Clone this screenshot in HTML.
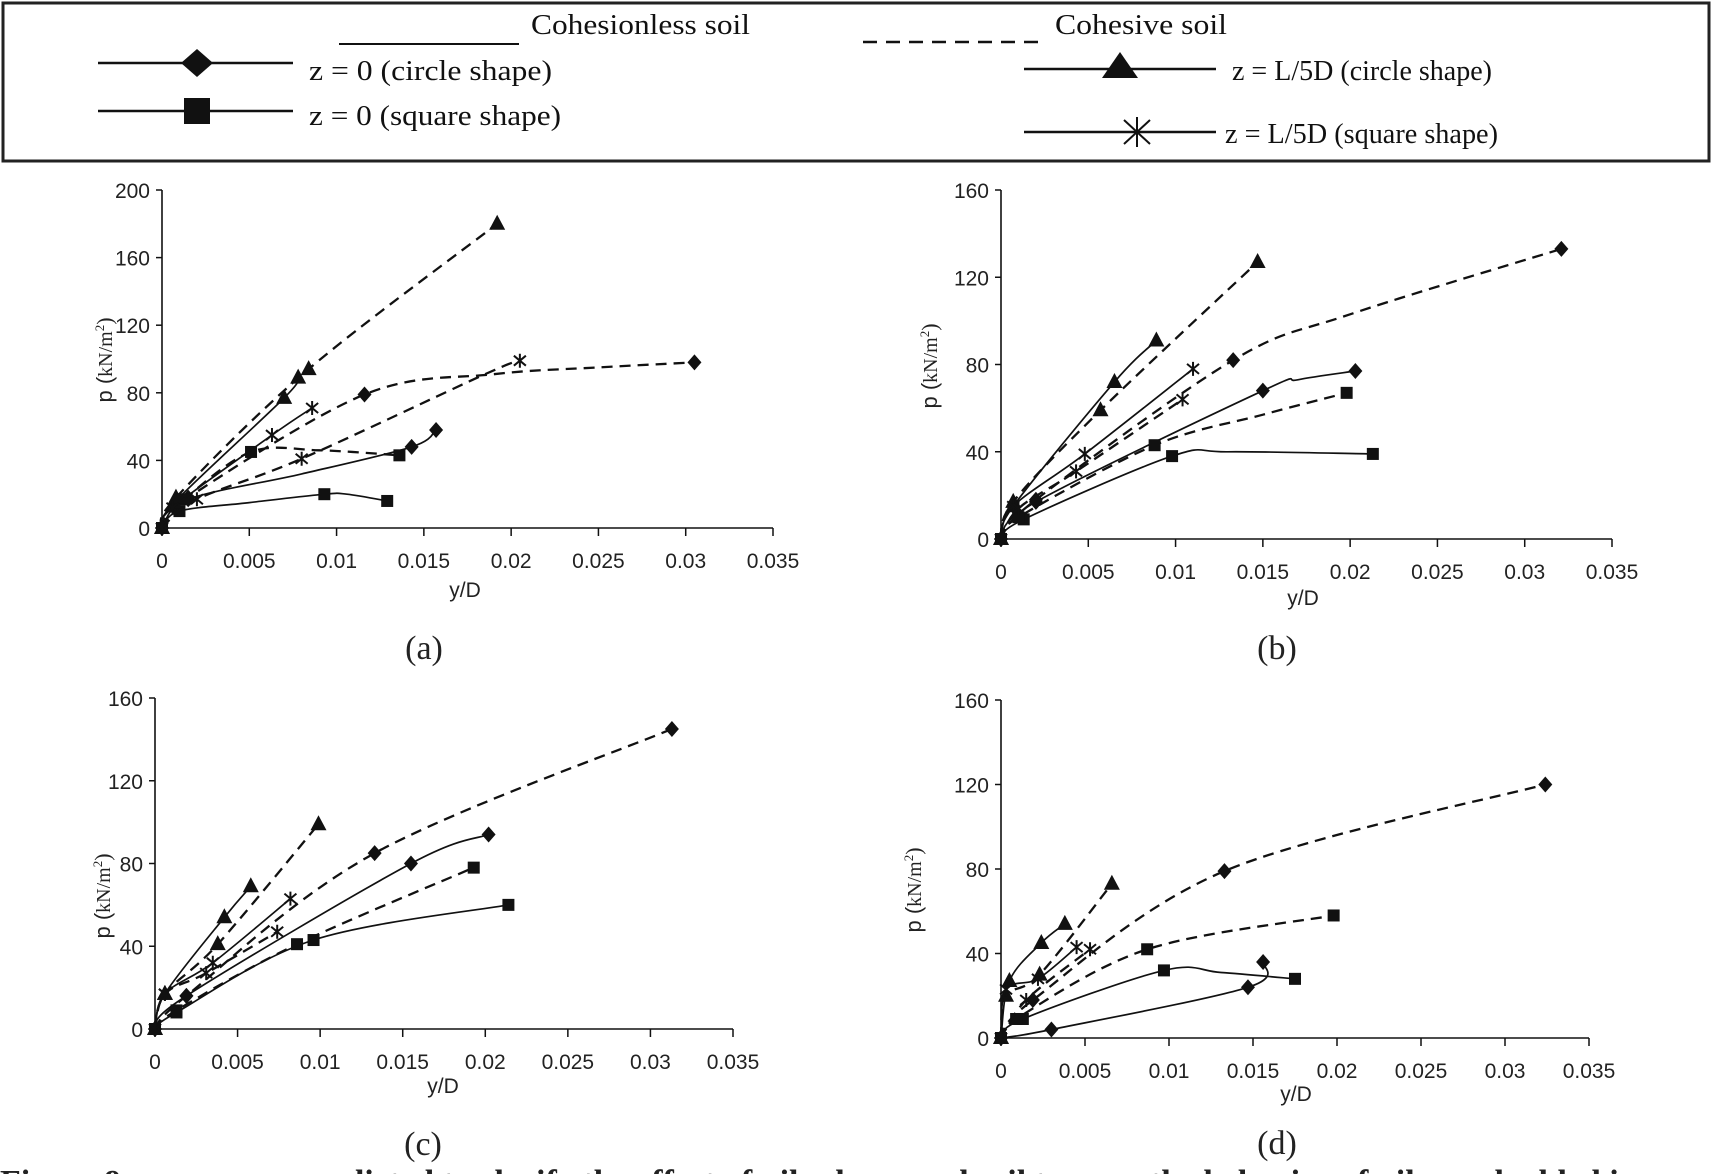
<!DOCTYPE html>
<html><head><meta charset="utf-8"><style>
html,body{margin:0;padding:0;background:#fff;}
svg{display:block;}
</style></head><body>
<svg id="fig" width="1714" height="1174" viewBox="0 0 1714 1174" xmlns="http://www.w3.org/2000/svg">
<rect x="0" y="0" width="1714" height="1174" fill="#fff"/>
<g font-family="'Liberation Serif', serif" font-size="28" fill="#111">
  <rect x="3" y="3" width="1706" height="158" fill="none" stroke="#222" stroke-width="3"/>
  <line x1="339" y1="44" x2="519" y2="44" stroke="#111" stroke-width="2"/>
  <text x="531" y="34" textLength="219" lengthAdjust="spacingAndGlyphs">Cohesionless soil</text>
  <line x1="863" y1="42" x2="1044" y2="42" stroke="#111" stroke-width="2.5" stroke-dasharray="14,9"/>
  <text x="1055" y="34" textLength="172" lengthAdjust="spacingAndGlyphs">Cohesive soil</text>
  <g>
    <line x1="98" y1="63" x2="293" y2="63" stroke="#111" stroke-width="2.5"/>
    <polygon points="197,49 213,63 197,77 181,63" fill="#111"/>
    <text x="309" y="80" textLength="243" lengthAdjust="spacingAndGlyphs">z = 0 (circle shape)</text>
  </g>
  <g>
    <line x1="98" y1="111" x2="293" y2="111" stroke="#111" stroke-width="2.5"/>
    <rect x="184" y="98" width="26" height="26" fill="#111"/>
    <text x="309" y="125" textLength="252" lengthAdjust="spacingAndGlyphs">z = 0 (square shape)</text>
  </g>
  <g>
    <line x1="1024" y1="69" x2="1216" y2="69" stroke="#111" stroke-width="2.5"/>
    <polygon points="1120,52 1138,78 1102,78" fill="#111"/>
    <text x="1232" y="80" textLength="260" lengthAdjust="spacingAndGlyphs">z = L/5D (circle shape)</text>
  </g>
  <g>
    <line x1="1024" y1="132" x2="1216" y2="132" stroke="#111" stroke-width="2.5"/>
    <path d="M1137,117 L1137,147 M1124,120 L1150,144 M1150,120 L1124,144" stroke="#111" stroke-width="2"/>
    <text x="1225" y="143" textLength="273" lengthAdjust="spacingAndGlyphs">z = L/5D (square shape)</text>
  </g>
</g>
<g id="plots"></g>
<text x="0" y="1193" font-family="'Liberation Serif', serif" font-size="34" font-weight="bold" fill="#222">Figure 9.  p-y curves predicted to clarify the effect of pile shape and soil type on the behavior of piles embedded in</text>
</svg>
<script>
// ---- Panel (a) data ----
const aTriSX=[0,0.0007,0.007,0.0078], aTriSY=[0,15,77,89];
const aTriDX=[0,0.0008,0.0084,0.0192], aTriDY=[0,18,94,180];
const aDiaDX=[0,0.0015,0.0116,0.019,0.025,0.0305], aDiaDY=[0,18,79,91,95,98];
const aDiaSX=[0,0.0015,0.008,0.0143,0.0157], aDiaSY=[0,17,32,48,58];
const aSqDX=[0,0.0013,0.0051,0.009,0.0136], aSqDY=[0,17,45,46,43];
const aSqSX=[0,0.001,0.005,0.0093,0.0106,0.0129], aSqSY=[0,10,15,20,20,16];
const aAstSX=[0,0.0006,0.0063,0.0086], aAstSY=[0,12,55,71];
const aAstDX=[0,0.002,0.008,0.0185,0.0205], aAstDY=[0,17,41,91,99];
// ---- Panel (b) data ----
const bTriSX=[0,0.0007,0.0065,0.0089], bTriSY=[0,15,72,91];
const bTriDX=[0,0.0007,0.0057,0.0147], bTriDY=[0,17,59,127];
const bAstSX=[0,0.0007,0.0048,0.011], bAstSY=[0,15,39,78];
const bAstDX=[0,0.001,0.0043,0.0104], bAstDY=[0,14,31,64];
const bDiaDX=[0,0.002,0.0133,0.02,0.0321], bDiaDY=[0,18,82,103,133];
const bDiaSX=[0,0.002,0.015,0.017,0.0203], bDiaSY=[0,17,68,73,77];
const bSqDX=[0,0.001,0.0088,0.015,0.0198], bSqDY=[0,10,43,57,67];
const bSqSX=[0,0.0013,0.0098,0.013,0.0213], bSqSY=[0,9,38,40,39];
// ---- Panel (c) data ----
const cTriSX=[0,0.0006,0.0042,0.0058], cTriSY=[0,17,54,69];
const cTriDX=[0,0.0006,0.0038,0.0099], cTriDY=[0,17,41,99];
const cAstSX=[0,0.0006,0.0035,0.0082], cAstSY=[0,17,32,63];
const cAstDX=[0,0.0006,0.0031,0.0074], cAstDY=[0,17,27,47];
const cDiaDX=[0,0.0019,0.0133,0.0313], cDiaDY=[0,16,85,145];
const cDiaSX=[0,0.0019,0.0155,0.0202], cDiaSY=[0,16,80,94];
const cSqDX=[0,0.0013,0.0086,0.0193], cSqDY=[0,9,41,78];
const cSqSX=[0,0.0013,0.0096,0.0214], cSqSY=[0,8,43,60];
// ---- Panel (d) data ----
const dTriSX=[0,0.0005,0.0024,0.0038], dTriSY=[0,27,45,54];
const dTriDX=[0,0.0003,0.0023,0.0066], dTriDY=[0,20,30,73];
const dAstSX=[0,0.0003,0.0022,0.0045], dAstSY=[0,23,28,43];
const dAstDX=[0,0.0015,0.0053], dAstDY=[0,18,42];
const dDiaDX=[0,0.0019,0.0133,0.0324], dDiaDY=[0,18,79,120];
const dSqDX=[0,0.0009,0.0087,0.0198], dSqDY=[0,9,42,58];
const dSqSX=[0,0.0013,0.0097,0.0131,0.0175], dSqSY=[0,9,32,31,28];
const dDiaSX=[0,0.003,0.0147,0.0156], dDiaSY=[0,4,24,36];
// ---- tick labels ----
const xTickLabels=["0","0.005","0.01","0.015","0.02","0.025","0.03","0.035"];
const yTicksA=[0,40,80,120,160,200];
const yTicks=[0,40,80,120,160];

const NS="http://www.w3.org/2000/svg";
const root=document.getElementById('plots');
function mk(tag,attrs,parent){const e=document.createElementNS(NS,tag);for(const k in attrs)e.setAttribute(k,attrs[k]);(parent||root).appendChild(e);return e;}

const panels=[
 {id:'a',x0:162,x1:773,y0:528,yt:190,ymax:200,ticks:yTicksA,title:[104,360],xl:[465,597],cap:[424,659],
  series:[[aDiaSX,aDiaSY,'dia',0,[2]],[aDiaDX,aDiaDY,'dia',1,[3,4]],[aSqSX,aSqSY,'sq',0,[2,4]],[aSqDX,aSqDY,'sq',1,[3]],
          [aTriSX,aTriSY,'tri',0,[]],[aTriDX,aTriDY,'tri',1,[]],[aAstSX,aAstSY,'ast',0,[]],[aAstDX,aAstDY,'ast',1,[3]]]},
 {id:'b',x0:1001,x1:1612,y0:539,yt:190,ymax:160,ticks:yTicks,title:[929,366],xl:[1303,605],cap:[1277,659],
  series:[[bDiaSX,bDiaSY,'dia',0,[3]],[bDiaDX,bDiaDY,'dia',1,[3]],[bSqSX,bSqSY,'sq',0,[3]],[bSqDX,bSqDY,'sq',1,[3]],
          [bTriSX,bTriSY,'tri',0,[]],[bTriDX,bTriDY,'tri',1,[]],[bAstSX,bAstSY,'ast',0,[]],[bAstDX,bAstDY,'ast',1,[]]]},
 {id:'c',x0:155,x1:733,y0:1029,yt:698,ymax:160,ticks:yTicks,title:[102,896],xl:[443,1093],cap:[423,1155],
  series:[[cDiaSX,cDiaSY,'dia',0,[]],[cDiaDX,cDiaDY,'dia',1,[]],[cSqSX,cSqSY,'sq',0,[]],[cSqDX,cSqDY,'sq',1,[]],
          [cTriSX,cTriSY,'tri',0,[]],[cTriDX,cTriDY,'tri',1,[]],[cAstSX,cAstSY,'ast',0,[]],[cAstDX,cAstDY,'ast',1,[]]]},
 {id:'d',x0:1001,x1:1589,y0:1038,yt:700,ymax:160,ticks:yTicks,title:[913,890],xl:[1296,1101],cap:[1277,1154],
  series:[[dDiaSX,dDiaSY,'dia',0,[]],[dDiaDX,dDiaDY,'dia',1,[]],[dSqSX,dSqSY,'sq',0,[3]],[dSqDX,dSqDY,'sq',1,[]],
          [dTriSX,dTriSY,'tri',0,[]],[dTriDX,dTriDY,'tri',1,[]],[dAstSX,dAstSY,'ast',0,[]],[dAstDX,dAstDY,'ast',1,[]]]}
];

function smooth(pts){
  if(pts.length<2)return '';
  let d='M'+pts[0][0].toFixed(1)+','+pts[0][1].toFixed(1);
  for(let i=0;i<pts.length-1;i++){
    const p0=pts[i-1]||pts[i],p1=pts[i],p2=pts[i+1],p3=pts[i+2]||p2;
    const c1=[p1[0]+(p2[0]-p0[0])/6,p1[1]+(p2[1]-p0[1])/6];
    const c2=[p2[0]-(p3[0]-p1[0])/6,p2[1]-(p3[1]-p1[1])/6];
    d+=' C'+c1[0].toFixed(1)+','+c1[1].toFixed(1)+' '+c2[0].toFixed(1)+','+c2[1].toFixed(1)+' '+p2[0].toFixed(1)+','+p2[1].toFixed(1);
  }
  return d;
}
function marker(g,type,x,y){
  let e;
  if(type==='dia'){e=mk('polygon',{points:`${x},${y-8} ${x+7},${y} ${x},${y+8} ${x-7},${y}`,fill:'#111'},g);}
  else if(type==='sq'){e=mk('rect',{x:x-6,y:y-6,width:12,height:12,fill:'#111'},g);}
  else if(type==='tri'){e=mk('polygon',{points:`${x},${y-9} ${x+8},${y+6} ${x-8},${y+6}`,fill:'#111'},g);}
  else {e=mk('path',{d:`M${x},${y-7} L${x},${y+7} M${x-6},${y-5} L${x+6},${y+5} M${x+6},${y-5} L${x-6},${y+5}`,stroke:'#111','stroke-width':2,fill:'none'},g);}
  
  
}

panels.forEach(p=>{
  const g=mk('g',{});
  
  
  const sx=v=>p.x0+(p.x1-p.x0)*v/0.035;
  const sy=v=>p.y0-(p.y0-p.yt)*v/p.ymax;
  const xa=mk('line',{x1:p.x0,y1:p.y0,x2:p.x1,y2:p.y0,stroke:'#111','stroke-width':1.6},g);
  
  
  const ya=mk('line',{x1:p.x0,y1:p.y0,x2:p.x0,y2:p.yt,stroke:'#111','stroke-width':1.6},g);
  
  
  xTickLabels.forEach((lab,i)=>{
    const v=i*0.005, x=sx(v);
    mk('line',{x1:x,y1:p.y0,x2:x,y2:p.y0+8,stroke:'#111','stroke-width':1.5},g);
    const t=mk('text',{x:x,y:p.y0+40,'text-anchor':'middle','font-family':"'Liberation Sans', sans-serif",'font-size':21,fill:'#222'},g);
    t.textContent=lab;
    
    
  });
  p.ticks.forEach(v=>{
    const y=sy(v);
    mk('line',{x1:p.x0-6,y1:y,x2:p.x0,y2:y,stroke:'#111','stroke-width':1.5},g);
    const t=mk('text',{x:p.x0-12,y:y+8,'text-anchor':'end','font-family':"'Liberation Sans', sans-serif",'font-size':21,fill:'#222'},g);
    t.textContent=v;
    
    
  });
  const xl=mk('text',{x:p.xl[0],y:p.xl[1],'text-anchor':'middle','font-family':"'Liberation Sans', sans-serif",'font-size':21,fill:'#222'},g);
  xl.textContent='y/D';
  
  
  const yl=mk('text',{transform:`translate(${p.title[0]+8},${p.title[1]}) rotate(-90)`,'text-anchor':'middle','font-family':"'Liberation Sans', sans-serif",'font-size':22,fill:'#222'},g);
  yl.innerHTML='p (<tspan font-family="Liberation Serif, serif" font-size="20">kN/m</tspan><tspan font-size="13" dy="-8" font-family="Liberation Serif, serif">2</tspan><tspan dy="8" font-family="Liberation Serif, serif">)</tspan>';
  
  
  const cap=mk('text',{x:p.cap[0],y:p.cap[1],'text-anchor':'middle','font-family':"'Liberation Serif', serif",'font-size':34,fill:'#222'},g);
  cap.textContent='('+p.id+')';
  
  
  p.series.forEach(s=>{
    const [xs,ys,type,dashed,hidden]=s;
    const pts=xs.map((v,i)=>[sx(v),sy(ys[i])]);
    const path=mk('path',{d:smooth(pts),fill:'none',stroke:'#111','stroke-width':dashed?2.3:1.7,'stroke-dasharray':dashed?'11,7':'none'},g);
    
    
    pts.forEach((q,i)=>{ if(hidden.indexOf(i)<0) marker(g,type,q[0],q[1]); });
  });
});
</script>
</body></html>
